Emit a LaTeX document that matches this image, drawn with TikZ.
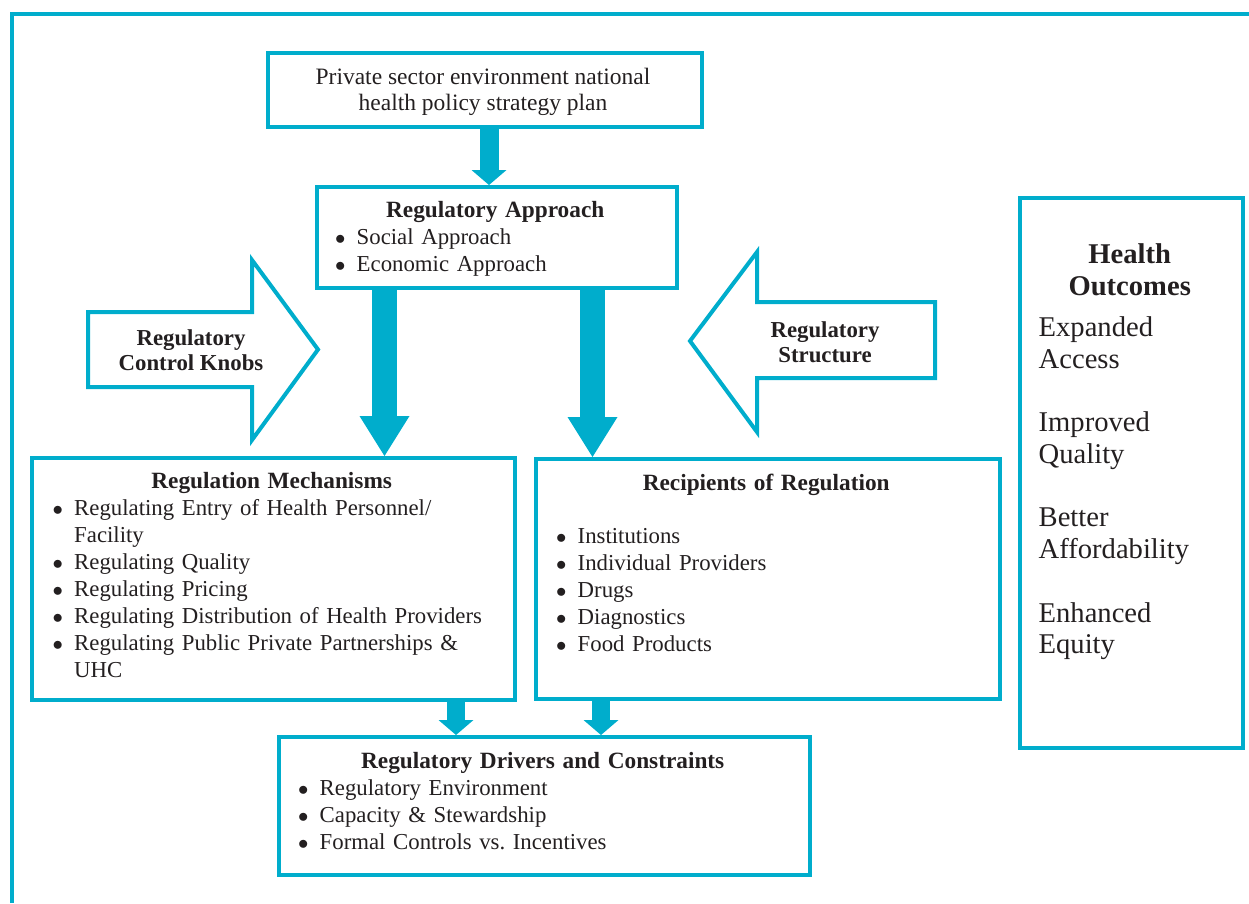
\documentclass[tikz,border=0pt]{standalone}
\usepackage{fontspec}
\setmainfont{Liberation Serif}
\usetikzlibrary{arrows.meta,positioning,calc}
\definecolor{regblue}{RGB}{0,173,204}
\definecolor{ink}{RGB}{35,31,32}
\frenchspacing
\newcommand{\bodysize}{\fontsize{22.8}{27}\selectfont}
\newcommand{\outsize}{\fontsize{28.6}{31.75}\selectfont}
% centred bold heading across a box of width #1
\newcommand{\regtitle}[2]{\makebox[#1pt]{\fontsize{23.3}{27}\selectfont\bfseries #2}}
% bullet line and its wrapped continuation, #1 = indent from the box edge
\newcommand{\regitem}[2][20]{\hspace*{#1pt}\makebox[22pt][l]{\hspace*{0.5pt}$\bullet$}#2}
\newcommand{\regcont}[2][20]{\hspace*{\dimexpr#1pt+22pt\relax}#2}
\tikzset{
  frameline/.style={draw=regblue, line width=4.5pt},
  box/.style={rectangle, draw=regblue, line width=4pt, inner sep=0pt, anchor=north west},
  boxtext/.style={anchor=north west, inner sep=0pt, align=left, text=ink, font=\bodysize},
  knob/.style={draw=regblue, line width=4pt, line join=miter},
  knobtext/.style={anchor=north, inner sep=0pt, align=center, text=ink, font=\fontsize{22.8}{25}\selectfont\bfseries},
  bigflow/.style={draw=regblue, line width=25pt, -{Triangle[length=40pt,width=50pt,line width=0pt]}},
  flow/.style={draw=regblue, line width=19pt, -{Triangle[length=15pt,width=35pt,line width=0pt]}}
}
\begin{document}
\begin{tikzpicture}[x=1pt, y=-1pt]
  \useasboundingbox (0,0) rectangle (1249,903);
  % open frame round the page
  \draw[frameline] (12,903) -- (12,14) -- (1249,14);

  % boxes
  \node[box, minimum width=434pt, minimum height=74pt] (policy) at (266,51) {};
  \node[box, minimum width=360pt, minimum height=101pt] (approach) at (315,185) {};
  \node[box, minimum width=483pt, minimum height=242pt] (mech) at (30,456) {};
  \node[box, minimum width=464pt, minimum height=240pt] (recip) at (534,457) {};
  \node[box, minimum width=531pt, minimum height=138pt] (drivers) at (277,735) {};
  \node[box, minimum width=223pt, minimum height=550pt] (outcomes) at (1018,196) {};

  % box contents
  \node[boxtext, anchor=north, align=center, font=\fontsize{23.5}{26}\selectfont] (policytxt) at (483,66.3)
    {\strut Private sector environment national\\health policy strategy plan};
  \node[boxtext, text width=360pt] (approachtxt) at (315,198.7)
    {\noindent\strut\regtitle{360}{Regulatory Approach}\\
     \regitem[19.5]{Social Approach}\\
     \regitem[19.5]{Economic Approach}};
  \node[boxtext, text width=483pt] (mechtxt) at (30,469.6)
    {\noindent\strut\regtitle{483}{Regulation Mechanisms}\\
     \regitem[22]{Regulating Entry of Health Personnel/}\\
     \regcont[22]{Facility}\\
     \regitem[22]{Regulating Quality}\\
     \regitem[22]{Regulating Pricing}\\
     \regitem[22]{Regulating Distribution of Health Providers}\\
     \regitem[22]{Regulating Public Private Partnerships \&}\\
     \regcont[22]{UHC}};
  \node[boxtext, text width=464pt] (reciptxt) at (534,471.6)
    {\noindent\strut\regtitle{464}{Recipients of Regulation}\\[25.5pt]
     \regitem[21.5]{Institutions}\\
     \regitem[21.5]{Individual Providers}\\
     \regitem[21.5]{Drugs}\\
     \regitem[21.5]{Diagnostics}\\
     \regitem[21.5]{Food Products}};
  \node[boxtext, text width=531pt] (driverstxt) at (277,749.1)
    {\noindent\strut\regtitle{531}{Regulatory Drivers and Constraints}\\
     \regitem[20.5]{Regulatory Environment}\\
     \regitem[20.5]{Capacity \& Stewardship}\\
     \regitem[20.5]{Formal Controls vs. Incentives}};
  \node[boxtext, text width=223pt, font=\outsize] (outcomestxt) at (1018,241.3)
    {\noindent\strut\makebox[223pt]{\bfseries Health}\\
     \makebox[223pt]{\bfseries Outcomes}\\[9.25pt]
     \hspace*{20.5pt}Expanded\\
     \hspace*{20.5pt}Access\\[31.75pt]
     \hspace*{20.5pt}Improved\\
     \hspace*{20.5pt}Quality\\[31.75pt]
     \hspace*{20.5pt}Better\\
     \hspace*{20.5pt}Affordability\\[31.75pt]
     \hspace*{20.5pt}Enhanced\\
     \hspace*{20.5pt}Equity};

  % hollow side arrows
  \draw[knob] (88,312) -- (252,312) -- (252,260) -- (318,349.5) -- (252,440) -- (252,387) -- (88,387) -- cycle;
  \node[knobtext] (knobs) at (191,328) {\strut Regulatory\\Control Knobs};
  \draw[knob] (935,302) -- (757,302) -- (757,252) -- (690,341) -- (757,432) -- (757,378) -- (935,378) -- cycle;
  \node[knobtext] (structure) at (825,319.5) {\strut Regulatory\\Structure};

  % solid flow arrows
  \draw[flow] ([xshift=4pt]policy.south) -- ([xshift=4pt]policy.south |- approach.north);
  \draw[bigflow] ([xshift=-112.5pt]approach.south) -- ([xshift=-112.5pt]approach.south |- mech.north);
  \draw[bigflow] ([xshift=95.5pt]approach.south) -- ([xshift=95.5pt]approach.south |- recip.north);
  \draw[flow, line width=18pt] ([xshift=182.5pt]mech.south) -- ([xshift=182.5pt]mech.south |- drivers.north);
  \draw[flow, line width=18pt] ([xshift=-167pt]recip.south) -- ([xshift=-167pt]recip.south |- drivers.north);
\end{tikzpicture}
\end{document}
